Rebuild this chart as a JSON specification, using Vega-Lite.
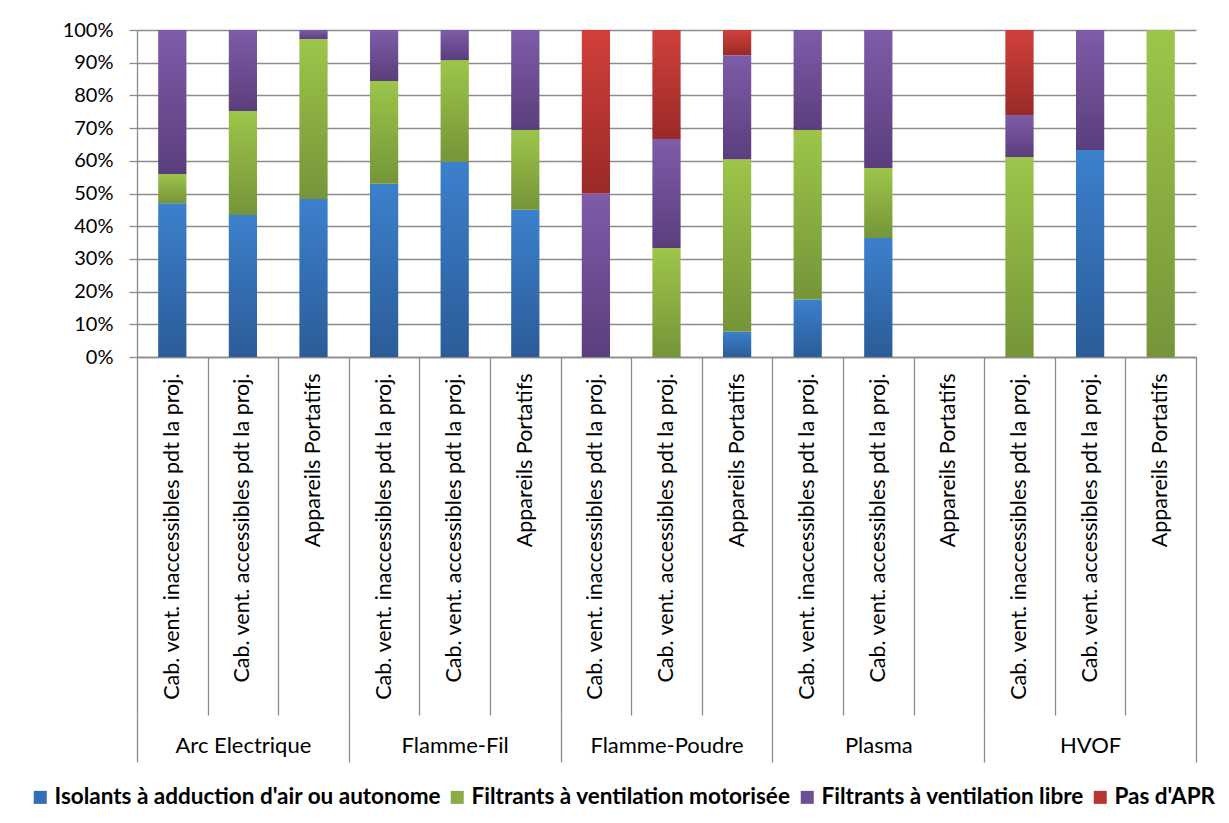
{
  "$schema": "https://vega.github.io/schema/vega-lite/v6.json",
  "autosize": "none",
  "width": 1059,
  "height": 327,
  "padding": {"left": 137, "top": 30, "right": 33, "bottom": 466},
  "background": "white",
  "config": {"view": {"stroke": null}},
  "datasets": {
    "main": [
      {"c": "01|Cab. vent. inaccessibles pdt la proj.", "s": "Isolants à adduction d'air ou autonome", "k": 1, "v": 0.47},
      {"c": "01|Cab. vent. inaccessibles pdt la proj.", "s": "Filtrants à ventilation motorisée", "k": 2, "v": 0.09},
      {"c": "01|Cab. vent. inaccessibles pdt la proj.", "s": "Filtrants à ventilation libre", "k": 3, "v": 0.44},
      {"c": "02|Cab. vent. accessibles pdt la proj.", "s": "Isolants à adduction d'air ou autonome", "k": 1, "v": 0.434},
      {"c": "02|Cab. vent. accessibles pdt la proj.", "s": "Filtrants à ventilation motorisée", "k": 2, "v": 0.318},
      {"c": "02|Cab. vent. accessibles pdt la proj.", "s": "Filtrants à ventilation libre", "k": 3, "v": 0.248},
      {"c": "03|Appareils Portatifs", "s": "Isolants à adduction d'air ou autonome", "k": 1, "v": 0.483},
      {"c": "03|Appareils Portatifs", "s": "Filtrants à ventilation motorisée", "k": 2, "v": 0.489},
      {"c": "03|Appareils Portatifs", "s": "Filtrants à ventilation libre", "k": 3, "v": 0.028},
      {"c": "04|Cab. vent. inaccessibles pdt la proj.", "s": "Isolants à adduction d'air ou autonome", "k": 1, "v": 0.53},
      {"c": "04|Cab. vent. inaccessibles pdt la proj.", "s": "Filtrants à ventilation motorisée", "k": 2, "v": 0.314},
      {"c": "04|Cab. vent. inaccessibles pdt la proj.", "s": "Filtrants à ventilation libre", "k": 3, "v": 0.156},
      {"c": "05|Cab. vent. accessibles pdt la proj.", "s": "Isolants à adduction d'air ou autonome", "k": 1, "v": 0.597},
      {"c": "05|Cab. vent. accessibles pdt la proj.", "s": "Filtrants à ventilation motorisée", "k": 2, "v": 0.311},
      {"c": "05|Cab. vent. accessibles pdt la proj.", "s": "Filtrants à ventilation libre", "k": 3, "v": 0.092},
      {"c": "06|Appareils Portatifs", "s": "Isolants à adduction d'air ou autonome", "k": 1, "v": 0.45},
      {"c": "06|Appareils Portatifs", "s": "Filtrants à ventilation motorisée", "k": 2, "v": 0.244},
      {"c": "06|Appareils Portatifs", "s": "Filtrants à ventilation libre", "k": 3, "v": 0.306},
      {"c": "07|Cab. vent. inaccessibles pdt la proj.", "s": "Filtrants à ventilation libre", "k": 3, "v": 0.5},
      {"c": "07|Cab. vent. inaccessibles pdt la proj.", "s": "Pas d'APR", "k": 4, "v": 0.5},
      {"c": "08|Cab. vent. accessibles pdt la proj.", "s": "Filtrants à ventilation motorisée", "k": 2, "v": 0.333},
      {"c": "08|Cab. vent. accessibles pdt la proj.", "s": "Filtrants à ventilation libre", "k": 3, "v": 0.334},
      {"c": "08|Cab. vent. accessibles pdt la proj.", "s": "Pas d'APR", "k": 4, "v": 0.333},
      {"c": "09|Appareils Portatifs", "s": "Isolants à adduction d'air ou autonome", "k": 1, "v": 0.077},
      {"c": "09|Appareils Portatifs", "s": "Filtrants à ventilation motorisée", "k": 2, "v": 0.528},
      {"c": "09|Appareils Portatifs", "s": "Filtrants à ventilation libre", "k": 3, "v": 0.318},
      {"c": "09|Appareils Portatifs", "s": "Pas d'APR", "k": 4, "v": 0.077},
      {"c": "10|Cab. vent. inaccessibles pdt la proj.", "s": "Isolants à adduction d'air ou autonome", "k": 1, "v": 0.176},
      {"c": "10|Cab. vent. inaccessibles pdt la proj.", "s": "Filtrants à ventilation motorisée", "k": 2, "v": 0.518},
      {"c": "10|Cab. vent. inaccessibles pdt la proj.", "s": "Filtrants à ventilation libre", "k": 3, "v": 0.306},
      {"c": "11|Cab. vent. accessibles pdt la proj.", "s": "Isolants à adduction d'air ou autonome", "k": 1, "v": 0.364},
      {"c": "11|Cab. vent. accessibles pdt la proj.", "s": "Filtrants à ventilation motorisée", "k": 2, "v": 0.214},
      {"c": "11|Cab. vent. accessibles pdt la proj.", "s": "Filtrants à ventilation libre", "k": 3, "v": 0.422},
      {"c": "12|Appareils Portatifs", "s": "Isolants à adduction d'air ou autonome", "k": 1, "v": 0},
      {"c": "13|Cab. vent. inaccessibles pdt la proj.", "s": "Filtrants à ventilation motorisée", "k": 2, "v": 0.612},
      {"c": "13|Cab. vent. inaccessibles pdt la proj.", "s": "Filtrants à ventilation libre", "k": 3, "v": 0.128},
      {"c": "13|Cab. vent. inaccessibles pdt la proj.", "s": "Pas d'APR", "k": 4, "v": 0.26},
      {"c": "14|Cab. vent. accessibles pdt la proj.", "s": "Isolants à adduction d'air ou autonome", "k": 1, "v": 0.633},
      {"c": "14|Cab. vent. accessibles pdt la proj.", "s": "Filtrants à ventilation libre", "k": 3, "v": 0.367},
      {"c": "15|Appareils Portatifs", "s": "Filtrants à ventilation motorisée", "k": 2, "v": 1.0}
    ]
  },
  "layer": [
    {
      "data": {"name": "main"},
      "mark": {"type": "bar", "width": {"band": 0.4}},
      "encoding": {
        "x": {
          "field": "c", "type": "nominal", "sort": "ascending",
          "scale": {"paddingInner": 0, "paddingOuter": 0},
          "axis": {
            "title": null, "orient": "bottom",
            "domain": true, "domainColor": "#8c8c8c", "domainWidth": 1.3,
            "ticks": true, "tickBand": "extent", "tickSize": 358, "tickColor": "#8c8c8c", "tickWidth": 1.3,
            "labelAngle": 270, "labelPadding": -342, "labelLimit": 500,
            "labelFont": "Lato", "labelFontSize": 21.5, "labelColor": "#000000",
            "labelExpr": "split(datum.label, '|')[1]", "grid": false
          }
        },
        "y": {
          "field": "v", "type": "quantitative", "stack": "zero",
          "scale": {"domain": [0, 1], "nice": false},
          "axis": {
            "title": null, "values": [0, 0.1, 0.2, 0.3, 0.4, 0.5, 0.6, 0.7, 0.8, 0.9, 1],
            "format": ".0%", "labelOverlap": false, "grid": true, "gridColor": "#8c8c8c", "gridWidth": 1.3,
            "domain": true, "domainColor": "#8c8c8c", "domainWidth": 1.3,
            "ticks": true, "tickSize": 8, "tickColor": "#8c8c8c", "tickWidth": 1.3,
            "labelPadding": 16, "labelFont": "Lato", "labelFontSize": 20, "labelColor": "#000000"
          }
        },
        "order": {"field": "k", "type": "quantitative"},
        "fill": {
          "condition": [
            {"test": "datum.k == 1", "value": {"gradient": "linear", "x1": 0, "y1": 0, "x2": 0, "y2": 1, "stops": [{"offset": 0, "color": "#3c80cc"}, {"offset": 1, "color": "#2b5c98"}]}},
            {"test": "datum.k == 2", "value": {"gradient": "linear", "x1": 0, "y1": 0, "x2": 0, "y2": 1, "stops": [{"offset": 0, "color": "#9dc54a"}, {"offset": 1, "color": "#759539"}]}},
            {"test": "datum.k == 3", "value": {"gradient": "linear", "x1": 0, "y1": 0, "x2": 0, "y2": 1, "stops": [{"offset": 0, "color": "#7e5ca9"}, {"offset": 1, "color": "#5a3e7c"}]}}
          ],
          "value": {"gradient": "linear", "x1": 0, "y1": 0, "x2": 0, "y2": 1, "stops": [{"offset": 0, "color": "#d1403b"}, {"offset": 1, "color": "#992a27"}]}
        }
      }
    },
    {
      "data": {"name": "main"},
      "mark": {"type": "square", "opacity": 0},
      "encoding": {
        "x": {"field": "c", "type": "nominal", "sort": "ascending", "axis": null},
        "y": {
          "field": "v", "type": "quantitative", "stack": null,
          "scale": {"domain": [0, 1], "nice": false},
          "axis": {
            "title": null, "values": [0, 0.1, 0.2, 0.3, 0.4, 0.5, 0.6, 0.7, 0.8, 0.9, 1],
            "format": ".0%", "labelOverlap": false, "grid": true, "gridColor": "#8c8c8c", "gridWidth": 1.3,
            "domain": true, "domainColor": "#8c8c8c", "domainWidth": 1.3,
            "ticks": true, "tickSize": 8, "tickColor": "#8c8c8c", "tickWidth": 1.3,
            "labelPadding": 16, "labelFont": "Lato", "labelFontSize": 20, "labelColor": "#000000"
          }
        },
        "color": {
          "field": "s", "type": "nominal",
          "scale": {
            "domain": ["Isolants à adduction d'air ou autonome", "Filtrants à ventilation motorisée", "Filtrants à ventilation libre", "Pas d'APR"],
            "range": ["#346fb5", "#89ad42", "#6c4e93", "#b73632"]
          },
          "legend": {
            "orient": "none", "legendX": -108, "legendY": 756,
            "direction": "horizontal", "title": null,
            "symbolType": "square", "symbolSize": 169, "symbolOpacity": 1,
            "symbolStrokeWidth": 0,
            "labelFont": "Lato", "labelFontWeight": "bold", "labelFontSize": 22.5, "labelColor": "#000000",
            "labelLimit": 0, "labelOffset": 3, "columnPadding": 5
          }
        }
      }
    },
    {
      "data": {"values": [{"g": "Arc Electrique"}, {"g": "Flamme-Fil"}, {"g": "Flamme-Poudre"}, {"g": "Plasma"}, {"g": "HVOF"}]},
      "mark": {"type": "rule", "opacity": 0},
      "encoding": {
        "x": {
          "field": "g", "type": "nominal",
          "scale": {"domain": ["Arc Electrique", "Flamme-Fil", "Flamme-Poudre", "Plasma", "HVOF"], "paddingInner": 0, "paddingOuter": 0},
          "axis": {
            "title": null, "orient": "bottom", "offset": 358,
            "domain": false, "ticks": true, "tickBand": "extent", "tickSize": 47, "tickColor": "#8c8c8c", "tickWidth": 1.3,
            "labelAngle": 0, "labelPadding": -27, "labelFont": "Lato", "labelFontSize": 22, "labelColor": "#000000", "grid": false
          }
        }
      }
    }
  ],
  "resolve": {"scale": {"x": "independent"}}
}
